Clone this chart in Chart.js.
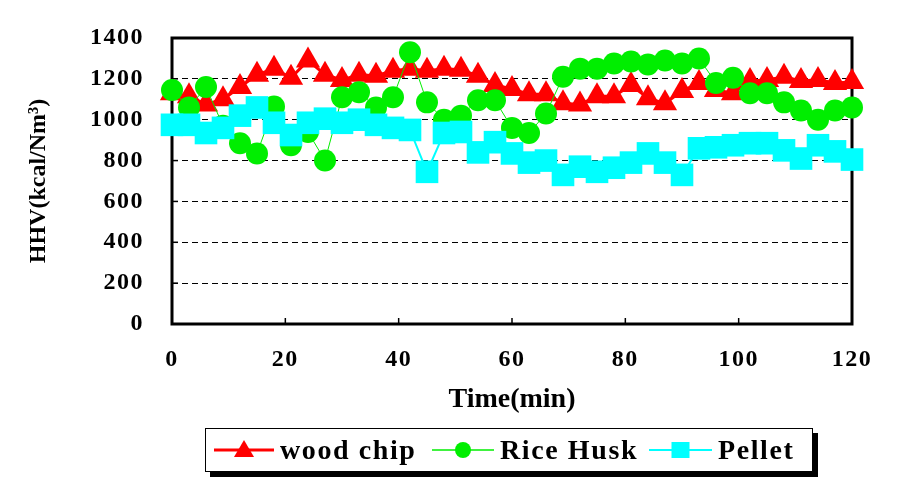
<!DOCTYPE html>
<html><head><meta charset="utf-8">
<script src="https://cdn.jsdelivr.net/npm/chart.js@4"></script>
<style>
html,body{margin:0;padding:0;background:#fff;}
#wrap{position:relative;width:910px;height:497px;overflow:hidden;}
#c{position:absolute;left:0;top:0;}
#legend{position:absolute;left:205px;top:428px;width:606px;height:42px;border:1.5px solid #000;box-shadow:5px 5px 0 #000;background:#fff;font-family:'Liberation Serif','Times New Roman',serif;font-weight:bold;font-size:28px;letter-spacing:1.6px;color:#000;}
.li{position:absolute;top:0;height:42px;display:flex;align-items:center;}
.li svg{display:block;}
.li span{margin-left:6px;line-height:42px;}
</style></head>
<body><div id="wrap"><canvas id="c" width="910" height="497"></canvas><div id="legend"></div></div>
<script>
const times = [0,3,6,9,12,15,18,21,24,27,30,33,36,39,42,45,48,51,54,57,60,63,66,69,72,75,78,81,84,87,90,93,96,99,102,105,108,111,114,117,120];
const woodChip = [1130,1115,1075,1100,1160,1220,1250,1205,1290,1220,1195,1220,1215,1240,1250,1240,1250,1245,1215,1170,1150,1125,1125,1080,1075,1115,1115,1170,1105,1080,1140,1180,1145,1130,1190,1195,1210,1190,1195,1180,1185];
const riceHusk = [1145,1060,1160,970,885,835,1065,875,940,800,1110,1135,1060,1110,1330,1085,1000,1020,1095,1095,960,935,1030,1210,1250,1250,1275,1285,1270,1290,1275,1300,1180,1205,1130,1130,1085,1045,1000,1045,1060];
const pellet = [975,975,935,960,1020,1060,985,925,985,1005,985,1000,975,960,950,745,935,940,840,890,835,790,800,730,770,745,765,790,835,790,730,860,865,875,885,885,850,810,875,845,805];
const seriesNames = ['wood chip','Rice Husk','Pellet'];
const xTitle = 'Time(min)';
const yTitle = 'HHV(kcal/Nm\u00B3)';

const FONT = "'Liberation Serif','Times New Roman',serif";
const RED = '#ff0000', GREEN = '#00ee00', CYAN = '#00ffff';

function pts(vals){ return times.map((t,i)=>({x:t,y:vals[i]})); }

const framePlugin = {
  id:'frame',
  beforeDatasetsDraw(chart){
    const {ctx, chartArea:a, scales} = chart;
    ctx.save();
    ctx.strokeStyle='#000'; ctx.lineWidth=1.5;
    ctx.setLineDash([]);
    scales.y.ticks.forEach(t=>{ const y=scales.y.getPixelForValue(t.value); ctx.beginPath(); ctx.moveTo(a.left,y); ctx.lineTo(a.left+6,y); ctx.stroke(); });
    scales.x.ticks.forEach(t=>{ const x=scales.x.getPixelForValue(t.value); ctx.beginPath(); ctx.moveTo(x,a.bottom); ctx.lineTo(x,a.bottom-6); ctx.stroke(); });
    ctx.lineWidth=3;
    ctx.strokeRect(a.left,a.top,a.right-a.left,a.bottom-a.top);
    ctx.restore();
  }
};
const spacingPlugin = {
  id:'spacing',
  beforeDraw(chart){ chart.ctx.letterSpacing='0px'; },
  afterDatasetsDraw(chart){ chart.ctx.letterSpacing='1.5px'; },
  afterDraw(chart){ chart.ctx.letterSpacing='0px'; }
};

const chart = new Chart(document.getElementById('c'), {
  type:'line',
  data:{ datasets:[
    {label:seriesNames[0], data:pts(woodChip), borderColor:RED, backgroundColor:RED, pointBackgroundColor:RED, pointBorderColor:RED, borderWidth:3, pointStyle:'triangle', pointRadius:14, pointBorderWidth:0, tension:0, order:2, clip:false},
    {label:seriesNames[1], data:pts(riceHusk), borderColor:GREEN, backgroundColor:GREEN, pointBackgroundColor:GREEN, pointBorderColor:GREEN, borderWidth:1, pointStyle:'circle', pointRadius:11, pointBorderWidth:0, tension:0, order:1, clip:false},
    {label:seriesNames[2], data:pts(pellet), borderColor:CYAN, backgroundColor:CYAN, pointBackgroundColor:CYAN, pointBorderColor:CYAN, borderWidth:2, pointStyle:'rect', pointRadius:16, pointBorderWidth:0, tension:0, order:0, clip:false}
  ]},
  options:{
    responsive:false, animation:false, devicePixelRatio:1,
    layout:{padding:{top:38,right:58,bottom:80,left:0}},
    plugins:{legend:{display:false}, tooltip:{enabled:false}},
    scales:{
      x:{type:'linear', min:0, max:120,
        ticks:{stepSize:20, color:'#000', padding:21, z:1, font:{family:FONT,size:24,weight:'bold'}, callback:(v)=>String(v)},
        grid:{display:false, drawTicks:false}, border:{display:false},
        title:{display:true, text:xTitle, color:'#000', padding:0, font:{family:FONT,size:28,weight:'bold',lineHeight:1.2}},
        afterFit(s){ s.height=93; }
      },
      y:{min:0, max:1400,
        ticks:{stepSize:200, color:'#000', padding:22, z:1, font:{family:FONT,size:24,weight:'bold'}, callback:(v)=>String(v)},
        grid:{drawTicks:true, tickLength:6, tickColor:'rgba(0,0,0,0)', lineWidth:1, color:(c)=> (c.tick && (c.tick.value===0 || c.tick.value===1400)) ? 'rgba(0,0,0,0)' : '#000'},
        border:{display:false, dash:[6,4]},
        title:{display:true, text:yTitle, color:'#000', padding:{top:24,bottom:0}, font:{family:FONT,size:24,weight:'bold',lineHeight:1.2}},
        afterFit(s){ s.width=172; }
      }
    }
  },
  plugins:[framePlugin, spacingPlugin]
});

// HTML legend built from dataset info
const legendPos = [{svg:8,w:60},{svg:226,w:62},{svg:443,w:63}];
const leg = document.getElementById('legend');
chart.data.datasets.forEach((ds,i)=>{
  const p = legendPos[i];
  const w = p.w, h = 30, cx = w/2, cy = h/2;
  let marker='';
  if (ds.pointStyle==='triangle') marker = `<polygon points="${cx},${cy-10} ${cx+10},${cy+7} ${cx-10},${cy+7}" fill="${ds.borderColor}"/>`;
  else if (ds.pointStyle==='circle') marker = `<circle cx="${cx}" cy="${cy}" r="8" fill="${ds.borderColor}"/>`;
  else marker = `<rect x="${cx-9}" y="${cy-8}" width="18" height="16" fill="${ds.borderColor}"/>`;
  const div = document.createElement('div');
  div.className='li'; div.style.left=p.svg+'px';
  div.innerHTML = `<svg width="${w}" height="${h}"><line x1="0" y1="${cy}" x2="${w}" y2="${cy}" stroke="${ds.borderColor}" stroke-width="${Math.max(ds.borderWidth,1.5)}"/>${marker}</svg><span>${ds.label}</span>`;
  leg.appendChild(div);
});
</script>
</body></html>
